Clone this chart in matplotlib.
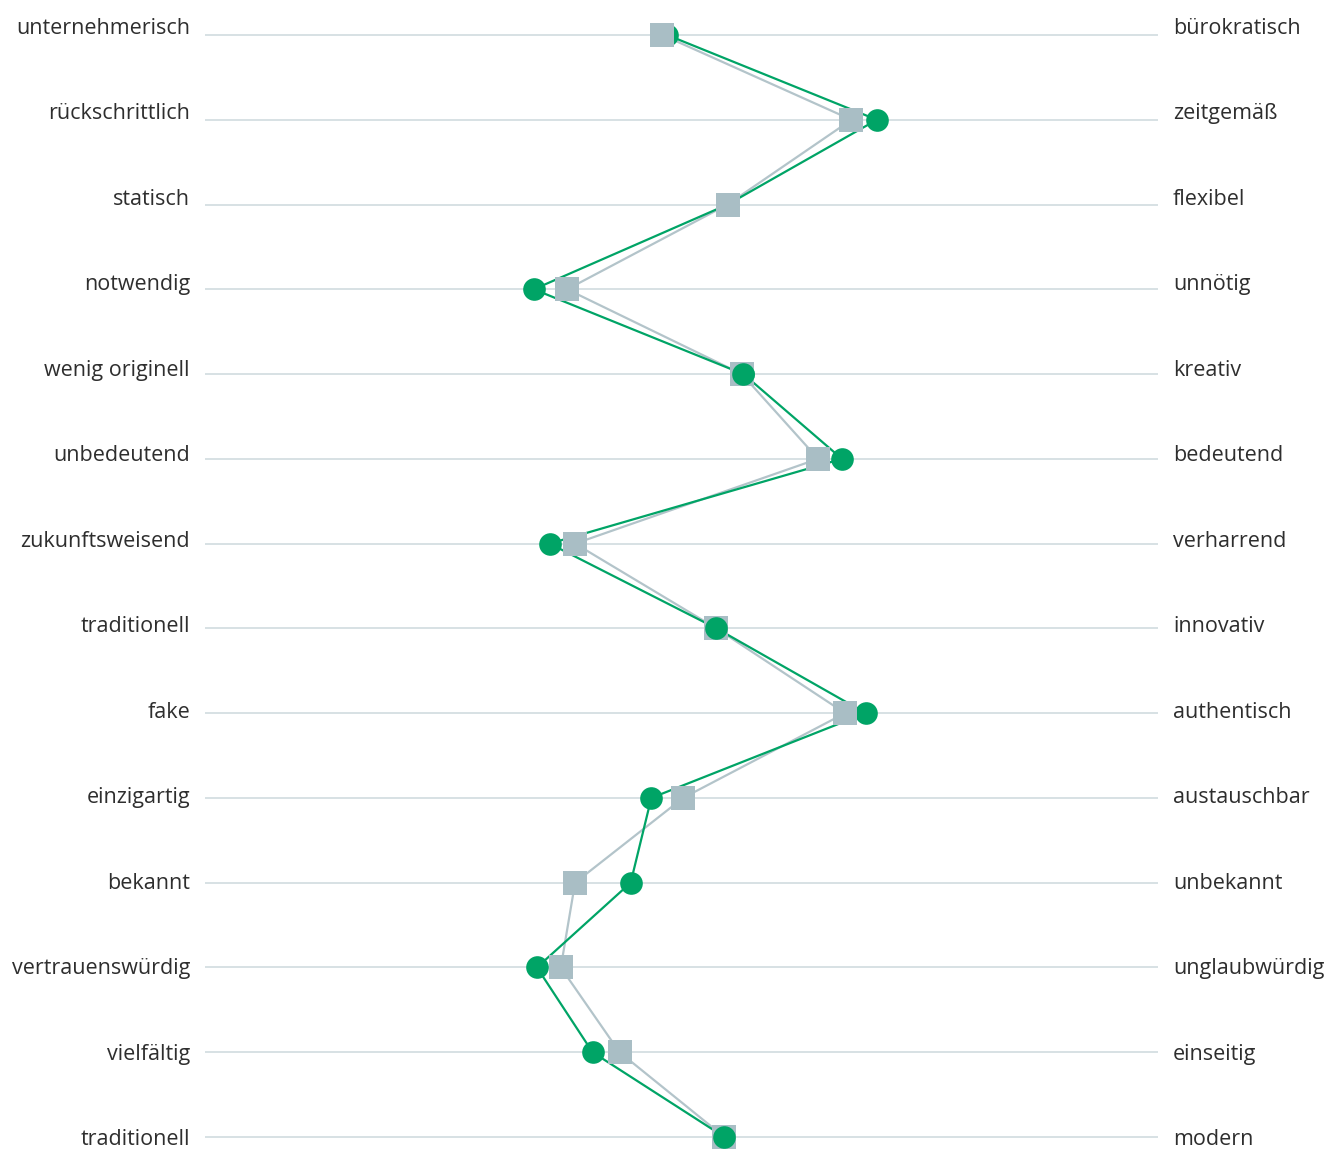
import matplotlib
matplotlib.use("Agg")
import matplotlib.pyplot as plt

# word pairs of the semantic differential, top to bottom
left_labels = ["unternehmerisch", "rückschrittlich", "statisch", "notwendig",
               "wenig originell", "unbedeutend", "zukunftsweisend", "traditionell",
               "fake", "einzigartig", "bekannt", "vertrauenswürdig", "vielfältig",
               "traditionell"]
right_labels = ["bürokratisch", "zeitgemäß", "flexibel", "unnötig", "kreativ",
                "bedeutend", "verharrend", "innovativ", "authentisch", "austauschbar",
                "unbekannt", "unglaubwürdig", "einseitig", "modern"]

# mean ratings on a 1..7 scale
green_vals = [3.91, 5.23, 4.29, 3.07, 4.39, 5.01, 3.17, 4.22, 5.16, 3.81, 3.68, 3.09, 3.44, 4.27]
gray_vals = [3.88, 5.07, 4.29, 3.28, 4.38, 4.86, 3.33, 4.22, 5.03, 4.01, 3.33, 3.24, 3.61, 4.27]

# rows where the circle sits above the square
circle_on_top = [4, 7, 13]

GREEN = "#00a466"
GRAY = "#a9bec5"
GRAY_LINE = "#b3c4ca"
RULE = "#cdd8dc"
TEXT = "#2e2e2e"

plt.rcParams['font.family'] = ['Open Sans', 'DejaVu Sans']

W, H = 1331, 1149
fig = plt.figure(figsize=(W / 100, H / 100), dpi=100)
left_px, right_px = 205, 1158
ax = fig.add_axes([left_px / W, 0, (right_px - left_px) / W, 1])

rows = list(range(len(left_labels)))
top_px, bottom_px = 35, 1137
step = (bottom_px - top_px) / (len(rows) - 1)
ax.set_ylim(len(rows) - 1 + (H - bottom_px) / step, -top_px / step)
ax.set_xlim(1, 7)
ax.axis("off")

# label baselines run on a slightly wider pitch than the rules
label_top, label_step = 34, 85.46

for r in rows:
    ax.axhline(r, color=RULE, lw=1.1, zorder=1)
    y = 1 - (label_top + r * label_step) / H
    fig.text((left_px - 15) / W, y, left_labels[r], ha="right", va="baseline",
             fontsize=15.5, color=TEXT)
    fig.text((right_px + 15) / W, y, right_labels[r], ha="left", va="baseline",
             fontsize=15.5, color=TEXT)

ax.plot(gray_vals, rows, color=GRAY_LINE, lw=1.6, zorder=2, clip_on=False)
ax.plot(green_vals, rows, color=GREEN, lw=1.6, zorder=2.5, clip_on=False)
ax.plot(green_vals, rows, ls="none", marker="o", ms=16.3, color=GREEN, mew=0,
        zorder=3, clip_on=False)
ax.plot(gray_vals, rows, ls="none", marker="s", ms=16.8, color=GRAY, mew=0,
        zorder=4, clip_on=False)
ax.plot([green_vals[i] for i in circle_on_top], circle_on_top, ls="none", marker="o",
        ms=16.3, color=GREEN, mew=0, zorder=5, clip_on=False)

fig.savefig("out.png", dpi=100)
